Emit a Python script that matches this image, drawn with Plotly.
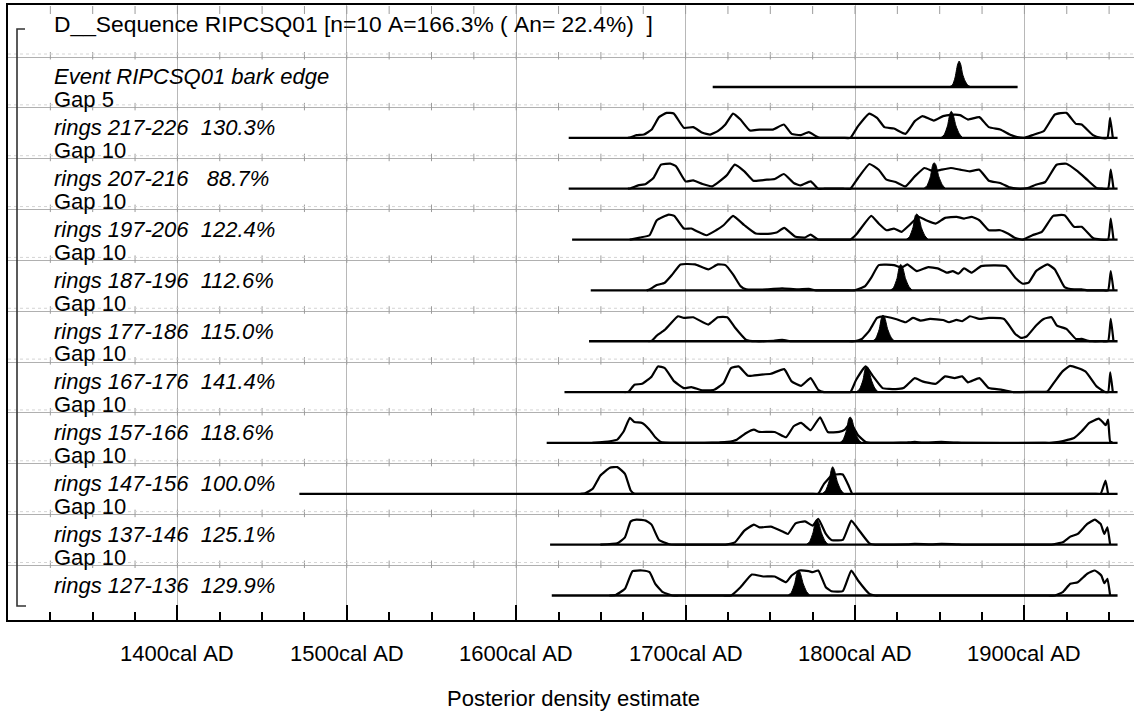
import plotly.graph_objects as go

# ---------------- data ----------------
row_names = ["Event RIPCSQ01 bark edge", "rings 217-226", "rings 207-216", "rings 197-206",
             "rings 187-196", "rings 177-186", "rings 167-176", "rings 157-166",
             "rings 147-156", "rings 137-146", "rings 127-136"]
agreement = [None, 130.3, 88.7, 122.4, 112.6, 115.0, 141.4, 118.6, 100.0, 125.1, 129.9]
gaps = [5, 10, 10, 10, 10, 10, 10, 10, 10, 10, None]
range_start = [1716, 1631, 1631, 1633, 1644, 1643, 1628.5, 1618, 1472, 1620, 1621]
range_end = [1896, 1955, 1955, 1955, 1955, 1955, 1955, 1955, 1955, 1955, 1955]
title_text = "D__Sequence RIPCSQ01 [n=10 A=166.3% ( An= 22.4%)  ]"
tick_years = [1400, 1500, 1600, 1700, 1800, 1900]
tick_text = ["1400cal AD", "1500cal AD", "1600cal AD", "1700cal AD", "1800cal AD", "1900cal AD"]

# likelihoods (unmodelled, outline) : (year, relative density)
like_event = []
like_217_226 = [(1666,0),(1667.6,0.5),(1671,2.7),(1675.4,3.3),(1680,8.3),(1684.3,20.7),(1688.8,25),(1693,24.3),(1699,10),(1704.5,10.7),(1710,5),(1714.5,3.3),(1719,6.7),(1723.5,13.3),(1728,24.3),(1732.4,18.3),(1738,7.3),(1743.6,8.3),(1751.5,8.3),(1758,13.3),(1762.6,4),(1768,2.7),(1772.7,5.7),(1777,1.7),(1779.4,0),(1783,0),(1793,0),(1797.3,0),(1801.8,11.7),(1808.5,24.3),(1813,20),(1817.4,10.7),(1823,9.3),(1829.8,4),(1835.3,16.7),(1839.8,21.7),(1846.5,17.3),(1852,21.7),(1856.6,23),(1862,22.7),(1866.7,18.3),(1873.4,20.7),(1879,10.7),(1885.7,8.3),(1891.3,3.3),(1895.7,0.7),(1900,0),(1904.7,2.7),(1911.4,6.7),(1918,23.3),(1924.8,25),(1930.4,14),(1933.8,13.3),(1940.5,2.7),(1945,0),(1949,0),(1950.6,20),(1952.2,0)]
like_207_216 = [(1666,0),(1667.6,0.5),(1672,3.3),(1676.5,4.7),(1681,10.7),(1685.5,24),(1691,25),(1694.4,22.3),(1700,7.3),(1704.5,8.3),(1710,4.7),(1715.7,2.3),(1720,7.3),(1724.6,14),(1729,24),(1734.7,17.3),(1740,8),(1748,9),(1752.6,9.7),(1758,14.7),(1763.8,5.7),(1768,3.3),(1773.8,7.3),(1778.3,0),(1782,0),(1793,0),(1797.3,0),(1801.8,10.7),(1808.5,24.7),(1814,19),(1818.6,9),(1824,6.7),(1829.8,2.3),(1835.3,12.3),(1841,20.7),(1846.5,17.3),(1851,19),(1856.6,20.7),(1862,19),(1867.8,17.3),(1873.4,19),(1879,8),(1885.7,5.7),(1891.3,1.3),(1895.7,0),(1902,0.7),(1906.7,4),(1912.3,6.7),(1919,24),(1924.8,25),(1931.5,17.3),(1937,9),(1942.6,0.7),(1946,0),(1949.4,0),(1951,19),(1952.6,0)]
like_197_206 = [(1667,0),(1668.7,0.5),(1673,2),(1678.7,4.3),(1683,19.3),(1690,25),(1693.3,23.7),(1699,11),(1703.4,11),(1706.7,8.3),(1712.3,4.3),(1718,9.3),(1722.4,14.3),(1728,23.7),(1734.7,14.3),(1741.4,6),(1750.3,6),(1753.7,7),(1758.2,11.7),(1764.9,2.7),(1770.5,2),(1773.8,5),(1778.3,0),(1782,0),(1793,0),(1797.3,0),(1800.7,5),(1809.6,23.7),(1814,16),(1818.6,9.3),(1823,11),(1827.5,7.7),(1832,14.3),(1837.6,22.7),(1842,19.3),(1847.7,16),(1853.2,21.7),(1860,22.7),(1864.4,21),(1868.9,22.7),(1873.4,19.3),(1879,9.3),(1885.7,9.3),(1890.2,6),(1894.6,1.5),(1899.1,0),(1904.7,4.3),(1910.3,7.7),(1917,23.7),(1923.7,24.3),(1929.3,12.7),(1933.8,12.7),(1940.5,1.5),(1945,0),(1949.4,0),(1951,21),(1952.6,0)]
like_187_196 = [(1677,0),(1678.7,1),(1683,5.3),(1687.7,7.7),(1692.2,16),(1697,26),(1705.6,26),(1713.4,21),(1719,26),(1723.5,25.3),(1728,16),(1732.4,4.3),(1735.8,1),(1748,1),(1757,2),(1766,1),(1772.7,1.5),(1777,0),(1781,0),(1795,0),(1799.6,0),(1806,4.3),(1809.6,12.7),(1814,25.3),(1823,25.3),(1827.5,22.7),(1830.9,26),(1836.5,19.3),(1843.2,23.3),(1848.8,22),(1854.4,17.7),(1857.7,19.3),(1861,16.7),(1864.4,22),(1868.9,17.7),(1874.5,24.3),(1889,24.3),(1894.6,12.7),(1899.1,6.7),(1902.5,7.7),(1906.9,19.3),(1913.6,26),(1918,21),(1923.7,3.3),(1929.3,1),(1933.8,1),(1937,0),(1940,0),(1946,0),(1949.4,0),(1951,19.3),(1952.6,0)]
like_177_186 = [(1678,0),(1680,0.5),(1683,5.7),(1687.7,11.3),(1691,17.3),(1695.5,25),(1699,23.3),(1704.5,24),(1713.4,16.7),(1719,24),(1724.6,24),(1729,14),(1735.8,1.3),(1741.4,0),(1752,0.5),(1757,1.3),(1762.6,0),(1766,0),(1795,0),(1799.6,0),(1804,2.3),(1808.5,10.7),(1813,23.3),(1816.3,25),(1824,22.3),(1829.8,19),(1834.2,23.3),(1838.7,20.7),(1844.3,22.3),(1852,21.3),(1855.5,19),(1860,21.3),(1863.3,20),(1867.8,25),(1873.4,22.3),(1879,23.3),(1888,22.3),(1894.6,7.3),(1898,3.3),(1901.3,4.7),(1906.9,15.7),(1911.4,22.3),(1916,24),(1919.2,15.7),(1924.8,12.3),(1930.4,2.3),(1933.8,2.3),(1937,0.7),(1940,0),(1946,0),(1949.4,0),(1951,22.3),(1952.6,0)]
like_167_176 = [(1664,0),(1666.4,0.5),(1669.8,7.3),(1674.3,8.3),(1680,15.7),(1683.7,25.7),(1687.7,24),(1693.3,10.7),(1699,4),(1703.4,5),(1710,1.7),(1716.8,2.3),(1722.4,9),(1726.8,24),(1731.3,25.7),(1736.9,16.3),(1743.6,17.3),(1750.3,18.3),(1758.2,23),(1762.6,10.7),(1768.2,6.3),(1773.8,14),(1778.3,2.3),(1781.7,0),(1785,0),(1794,0),(1797.3,0),(1800.7,12.3),(1806.3,25.7),(1810.7,15.7),(1816.3,4),(1824,3),(1828.6,4),(1835.3,14),(1839.8,10.7),(1847.7,8.3),(1853.2,15.7),(1858.8,14),(1863.3,15.7),(1866.7,9.7),(1873.4,14),(1879,4),(1886.8,2.3),(1893.5,0),(1897,0),(1909,0.3),(1913.6,0.7),(1918,10.7),(1922.5,20.7),(1927,26.3),(1936,20.7),(1942.6,5.7),(1947,0.7),(1949.4,0),(1950.7,19.7),(1952.2,0)]
like_157_166 = [(1645,0),(1655.3,1.7),(1659.7,3.3),(1663.5,11.7),(1667.1,25),(1669.8,21),(1674.3,20),(1678.7,13.3),(1682.1,5.7),(1685.5,1),(1698.9,0),(1702,0),(1720,0.5),(1724.6,1),(1730.2,3.3),(1735.8,10),(1740.3,13.3),(1743.6,11),(1752.6,11),(1759.3,5.7),(1763.8,16.7),(1768.2,20),(1773.8,12.7),(1779.4,25.7),(1783.9,11),(1790.6,11),(1794,13.3),(1797.3,20),(1801.8,7.7),(1806.3,1),(1810.7,0),(1814,0),(1831,0.5),(1835.3,1),(1840,0.3),(1851,1),(1860,0.3),(1864,0),(1911,0),(1915.9,0),(1920.4,1),(1926,3.3),(1929.3,5),(1933.8,11.7),(1938.3,20),(1943.9,24.3),(1946.2,21),(1948,17.7),(1949.4,23.3),(1950.6,1.5),(1952.2,0)]
like_147_156 = [(1638,0),(1640.7,0.5),(1645.2,5),(1649.7,18.3),(1655.3,26),(1659.7,26.7),(1664.2,20),(1667.6,3.3),(1669.8,0),(1673,0),(1774,0),(1778.3,0),(1781.7,10),(1786.2,18.3),(1788.4,19.3),(1792.8,19.3),(1796.2,8.3),(1798.4,0),(1802,0),(1941,0),(1945,0),(1947.9,13.3),(1949.4,0)]
like_137_146 = [(1649.7,0),(1659.7,1.3),(1664.2,7.3),(1667.6,23.3),(1671,25),(1676.5,24),(1679.9,20),(1684.3,4.7),(1689.9,0.7),(1694.4,0),(1698,0),(1719,0),(1723.5,0),(1729.1,2.3),(1734.7,14),(1740.3,20),(1743.6,17.3),(1750.3,18),(1757,13.3),(1760.4,10.7),(1764.9,21.3),(1770.5,23.3),(1775,19),(1778.3,25.7),(1782.8,10.7),(1786.1,4.7),(1792.8,4.7),(1797.8,24),(1801.8,15.7),(1808.5,1.3),(1811.9,0),(1815,0),(1831,0.3),(1835.3,0.7),(1845,0.3),(1851,0.7),(1860,0.3),(1864,0),(1911,0),(1915.9,0),(1922.6,2.3),(1927.1,8),(1931.5,10.7),(1937.1,20.7),(1941.6,25),(1945,20.7),(1947.2,10.7),(1949,17.3),(1950.6,0)]
like_127_136 = [(1655,0),(1658.6,0.5),(1664.2,6.7),(1668.7,24.3),(1674.3,25),(1678.7,23.3),(1682.1,11.7),(1686.6,3.3),(1692.2,0),(1696,0),(1722,0),(1726.8,0),(1732.4,8.3),(1739.1,21),(1745.8,19),(1752.6,19),(1759.3,13.3),(1762.6,20),(1767.1,25),(1772.7,24.3),(1775,23.3),(1778.3,25),(1782.8,8.3),(1786.1,4.3),(1792.8,4.3),(1797.8,25),(1801.8,15),(1808.5,1.7),(1811.9,0),(1815,0),(1914,0),(1918,0),(1922.6,3.3),(1927.1,11.7),(1931.5,13.3),(1937.1,21.7),(1941.6,25),(1945.4,20),(1947.2,12.3),(1949,16.7),(1950.6,0)]

# posteriors (modelled, filled black) : (year, relative density)
post_event = [(1855.5,0),(1857.5,2),(1859,9),(1860.5,22),(1861.5,26),(1862.5,22),(1863.5,13),(1865,6),(1866.5,2),(1868.5,0)]
post_217_226 = [(1850.6,0),(1852.6,3),(1854.6,12),(1856.0,24),(1856.8,26.5),(1857.8,24),(1859.6,12),(1861.6,4),(1863.6,0)]
post_207_216 = [(1840.5,0),(1842.5,3),(1844.5,12),(1845.9,24),(1846.7,26),(1847.7,24),(1849.5,12),(1851.5,4),(1853.5,0)]
post_197_206 = [(1830.2,0),(1832.2,3),(1834.2,12),(1835.6,24),(1836.4,25.5),(1837.4,24),(1839.2,12),(1841.2,4),(1843.2,0)]
post_187_196 = [(1820.8,0),(1822.8,3),(1824.8,12),(1826.2,24),(1827.0,26),(1828.0,24),(1829.8,12),(1831.8,4),(1833.8,0)]
post_177_186 = [(1810.3,0),(1812.3,3),(1814.3,12),(1815.7,24),(1816.5,26),(1817.5,24),(1819.3,12),(1821.3,4),(1823.3,0)]
post_167_176 = [(1800.7,0),(1802.7,3),(1804.7,12),(1806.1,24),(1806.9,25.5),(1807.9,24),(1809.7,12),(1811.7,4),(1813.7,0)]
post_157_166 = [(1790.9,0),(1792.9,3),(1794.9,12),(1796.3,24),(1797.1,26),(1798.1,24),(1799.9,12),(1801.9,4),(1803.9,0)]
post_147_156 = [(1780.6,0),(1782.6,3),(1784.6,12),(1786.0,24),(1786.8,27),(1787.8,24),(1789.6,12),(1791.6,4),(1793.6,0)]
post_137_146 = [(1771.2,0),(1773.2,3),(1775.2,12),(1776.6,23),(1777.4,25),(1778.4,23),(1780.2,12),(1782.2,4),(1784.2,0)]
post_127_136 = [(1760.4,0),(1762.4,3),(1764.4,12),(1765.8,23),(1766.6,25),(1767.6,23),(1769.4,12),(1771.4,4),(1773.4,0)]

likes = [like_event, like_217_226, like_207_216, like_197_206, like_187_196, like_177_186,
         like_167_176, like_157_166, like_147_156, like_137_146, like_127_136]
posts = [post_event, post_217_226, post_207_216, post_197_206, post_187_196, post_177_186,
         post_167_176, post_157_166, post_147_156, post_137_146, post_127_136]

# ---------------- geometry / style ----------------
W, H = 1134, 713
PL, PR, PT, PB = 8, 1134, 5, 620
X0 = 1300.0
PX_PER_YR = 1.694
X1 = X0 + (PR - PL) / PX_PER_YR
SEP0, ROW_H = 57.0, 50.85
FONT = "Liberation Sans, Arial, Helvetica, sans-serif"
NB = "\u00a0"


def yd(py):  # pixel row -> data y
    return PB - py


def xd(px):  # pixel column -> data x (year)
    return X0 + (px - PL) / PX_PER_YR


def xp(px):
    return (px - PL) / (PR - PL)


def yp(py):
    return (PB - py) / (PB - PT)


def sep_px(i):
    return SEP0 + i * ROW_H


def base_px(i):
    return sep_px(i) + 30


fig = go.Figure()

# tick marks on separators and top border
minor_years = list(range(1325, 1951, 25))
tx, ty = [], []
for i in range(len(row_names)):
    s = sep_px(i)
    for yr in minor_years:
        tx += [yr, yr, None]
        ty += [yd(s - 5), yd(s + 2.5), None]
for yr in minor_years:
    tx += [yr, yr, None]
    ty += [yd(PT + 1), yd(PT + 9), None]
fig.add_trace(go.Scatter(x=tx, y=ty, mode="lines", line=dict(color="#9c9c9c", width=1),
                         hoverinfo="skip", showlegend=False))

# faint dotted lines just above each separator
dx, dy = [], []
for i in range(len(row_names)):
    s = sep_px(i) - 3
    dx += [X0, X1, None]
    dy += [yd(s), yd(s), None]
fig.add_trace(go.Scatter(x=dx, y=dy, mode="lines", line=dict(color="#d4d4d4", width=1, dash="dot"),
                         hoverinfo="skip", showlegend=False))

# bracket at left
fig.add_trace(go.Scatter(x=[xd(25), xd(17), xd(17), xd(26)], y=[yd(29), yd(29), yd(606), yd(606)],
                         mode="lines", line=dict(color="#333333", width=1.6),
                         hoverinfo="skip", showlegend=False))

# posteriors (filled)
for i, post in enumerate(posts):
    b = yd(base_px(i))
    fig.add_trace(go.Scatter(x=[p[0] for p in post], y=[b + p[1] for p in post],
                             mode="lines", fill="toself", fillcolor="black",
                             line=dict(color="black", width=1, shape="spline", smoothing=0.6),
                             hoverinfo="skip", showlegend=False))

# base lines
bx, by = [], []
for i in range(len(row_names)):
    b = yd(base_px(i))
    bx += [range_start[i], range_end[i], None]
    by += [b, b, None]
fig.add_trace(go.Scatter(x=bx, y=by, mode="lines", line=dict(color="black", width=2.3),
                         hoverinfo="skip", showlegend=False))

# likelihood outlines
for i, like in enumerate(likes):
    if not like:
        continue
    b = yd(base_px(i))
    fig.add_trace(go.Scatter(x=[p[0] for p in like], y=[b + p[1] for p in like],
                             mode="lines", line=dict(color="black", width=2.2, shape="spline", smoothing=0.4),
                             hoverinfo="skip", showlegend=False))

# ---------------- text ----------------
ann = []
FS = 22
MID = 0.3465  # baseline -> text-box centre (em)


def add_text(text, px, py_base, size=FS, italic=False, anchor="left"):
    ann.append(dict(text=text.replace(" ", NB), x=xp(px), y=yp(py_base - MID * size),
                    xref="paper", yref="paper", xanchor=anchor, yanchor="middle",
                    showarrow=False, borderpad=0, borderwidth=0,
                    font=dict(family=FONT, size=size, color="black",
                              style="italic" if italic else "normal")))


add_text(title_text, 54, 32, size=22.8)
for i, name in enumerate(row_names):
    lab = name if agreement[i] is None else f"{name}  {agreement[i]:5.1f}%"
    add_text(lab, 54, base_px(i) - 2.5, italic=True)
    if gaps[i] is not None:
        add_text(f"Gap {gaps[i]}", 54, sep_px(i + 1) - 0.5)

for yr, t in zip(tick_years, tick_text):
    ann.append(dict(text=t.replace(" ", NB), x=yr, y=yp(661 - MID * FS), xref="x", yref="paper",
                    xanchor="center", yanchor="middle", showarrow=False, borderpad=0, borderwidth=0,
                    font=dict(family=FONT, size=FS, color="black")))
add_text("Posterior density estimate", 573, 706, anchor="center")

fig.update_layout(
    width=W, height=H, autosize=False,
    margin=dict(l=PL, r=W - PR, t=PT, b=H - PB, pad=0),
    paper_bgcolor="white", plot_bgcolor="white",
    showlegend=False, annotations=ann,
    xaxis=dict(range=[X0, X1], tickmode="linear", tick0=1300, dtick=100,
               showgrid=True, gridcolor="#b8b8b8", gridwidth=1,
               ticks="inside", ticklen=15, tickwidth=1.5, tickcolor="black",
               showticklabels=False, showline=True, linecolor="black", linewidth=2, mirror=True,
               zeroline=False,
               minor=dict(tickmode="linear", tick0=1300, dtick=25, ticks="inside", ticklen=8,
                          tickwidth=1.5, tickcolor="black", showgrid=False)),
    yaxis=dict(range=[0, PB - PT], tickmode="array",
               tickvals=[yd(sep_px(i)) for i in range(len(row_names))],
               showgrid=True, gridcolor="#b0b0b0", gridwidth=1, ticks="",
               showticklabels=False, showline=True, linecolor="black", linewidth=2,
               zeroline=False, fixedrange=True),
)

fig.write_html("out.html")
